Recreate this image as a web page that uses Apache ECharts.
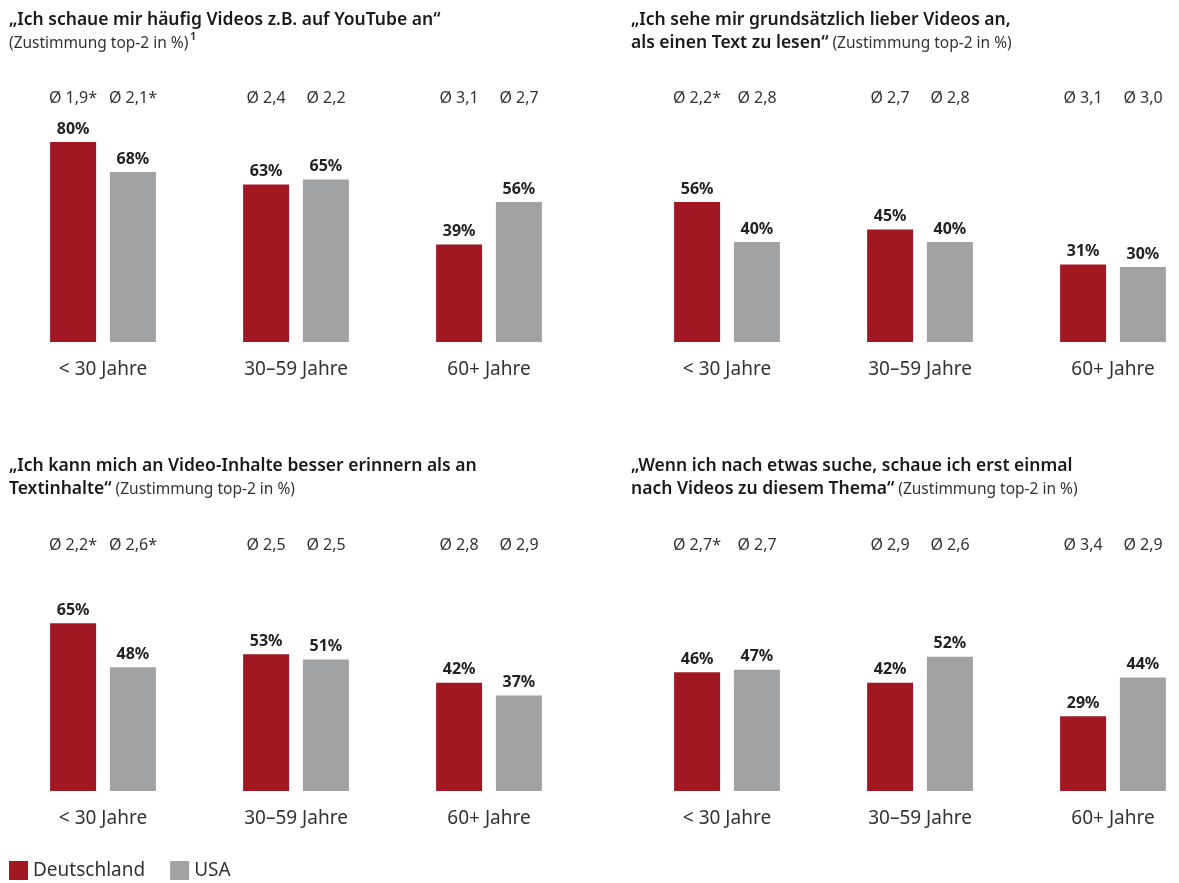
<!DOCTYPE html>
<html>
<head>
<meta charset="utf-8">
<script src="https://cdn.jsdelivr.net/npm/echarts@6/dist/echarts.min.js"></script>
<style>
  html, body { margin: 0; padding: 0; background: #fff; }
  #chart { width: 1179px; height: 883px; }
</style>
</head>
<body>
<div id="chart"></div>
<script>
// Videos vs. Text – Deutschland / USA, nach Altersgruppen

const categories = ['< 30 Jahre', '30–59 Jahre', '60+ Jahre'];

// Zustimmung top-2 in %
const deP1 = [80, 63, 39], usP1 = [68, 65, 56];
const deP2 = [56, 45, 31], usP2 = [40, 40, 30];
const deP3 = [65, 53, 42], usP3 = [48, 51, 37];
const deP4 = [46, 42, 29], usP4 = [47, 52, 44];

// Mittelwerte (Ø)
const avgDeP1 = ['1,9*', '2,4', '3,1'], avgUsP1 = ['2,1*', '2,2', '2,7'];
const avgDeP2 = ['2,2*', '2,7', '3,1'], avgUsP2 = ['2,8', '2,8', '3,0'];
const avgDeP3 = ['2,2*', '2,5', '2,8'], avgUsP3 = ['2,6*', '2,5', '2,9'];
const avgDeP4 = ['2,7*', '2,9', '3,4'], avgUsP4 = ['2,7', '2,6', '2,9'];

const titleBold = [
  ['„Ich schaue mir häufig Videos z.B. auf YouTube an“', ''],
  ['„Ich sehe mir grundsätzlich lieber Videos an,', 'als einen Text zu lesen“'],
  ['„Ich kann mich an Video-Inhalte besser erinnern als an', 'Textinhalte“'],
  ['„Wenn ich nach etwas suche, schaue ich erst einmal', 'nach Videos zu diesem Thema“']
];
const subTitle = '(Zustimmung top-2 in %)';

const RED = '#A11822';
const GRAY = '#A0A1A3';
const TEXT = '#222';
const FONT = '"Noto Sans", "Open Sans", sans-serif';

// Kategorien sitzen auf den Ticks (boundaryGap: false), Gruppenabstand 193px
const panels = [
  { de: deP1, us: usP1, avgDe: avgDeP1, avgUs: avgUsP1, left: 103, top: 117, height: 225, max: 90, tLeft: 9,   tTop: 9 },
  { de: deP2, us: usP2, avgDe: avgDeP2, avgUs: avgUsP2, left: 727, top: 117, height: 225, max: 90, tLeft: 631, tTop: 9 },
  { de: deP3, us: usP3, avgDe: avgDeP3, avgUs: avgUsP3, left: 103, top: 564, height: 227, max: 88, tLeft: 9,   tTop: 455 },
  { de: deP4, us: usP4, avgDe: avgDeP4, avgUs: avgUsP4, left: 727, top: 564, height: 227, max: 88, tLeft: 631, tTop: 455 }
];

const titles = [], grids = [], xAxes = [], yAxes = [], series = [];

panels.forEach((p, i) => {
  const [l1, l2] = titleBold[i];
  let text = '{b|' + l1 + '}\n';
  if (l2) text += '{b|' + l2 + '}{n| ' + subTitle + '}';
  else text += '{n|' + subTitle + '}{sup|1}';
  titles.push({
    left: p.tLeft, top: p.tTop, padding: 0,
    text,
    textStyle: {
      fontFamily: FONT,
      rich: {
        b: { fontFamily: FONT, fontSize: 17.5, fontWeight: 600, color: '#1a1a1a', lineHeight: 23 },
        n: { fontFamily: FONT, fontSize: 15.5, fontWeight: 400, color: '#333', lineHeight: 23 },
        sup: { fontFamily: FONT, fontSize: 10, color: '#333', verticalAlign: 'top', lineHeight: 14, padding: [0, 0, 6, 2] }
      }
    }
  });

  grids.push({ left: p.left, top: p.top, width: 386, height: p.height });

  xAxes.push({
    type: 'category', gridIndex: i, data: categories, position: 'bottom', boundaryGap: false,
    axisLine: { show: false }, axisTick: { show: false },
    axisLabel: { interval: 0, margin: 18, fontFamily: FONT, fontSize: 19, color: '#333' }
  });
  xAxes.push({
    type: 'category', gridIndex: i, data: categories, position: 'top', boundaryGap: false,
    axisLine: { show: false }, axisTick: { show: false },
    axisLabel: {
      interval: 0, margin: 11,
      formatter: (v, idx) => '{a|Ø ' + p.avgDe[idx] + '}{a|Ø ' + p.avgUs[idx] + '}',
      rich: { a: { width: 60, align: 'center', fontFamily: FONT, fontSize: 16, color: '#333' } }
    }
  });

  yAxes.push({ type: 'value', gridIndex: i, min: 0, max: p.max, show: false, splitLine: { show: false } });

  const label = {
    show: true, position: 'top', distance: 5, formatter: '{c}%',
    fontFamily: FONT, fontSize: 16, fontWeight: 'bold', color: TEXT
  };
  series.push({
    name: 'Deutschland', type: 'bar', xAxisIndex: i * 2, yAxisIndex: i,
    data: p.de, barWidth: 46, barGap: '30%', itemStyle: { color: RED }, label, silent: true
  });
  series.push({
    name: 'USA', type: 'bar', xAxisIndex: i * 2, yAxisIndex: i,
    data: p.us, barWidth: 46, barGap: '30%', itemStyle: { color: GRAY }, label, silent: true
  });
});

const chart = echarts.init(document.getElementById('chart'));
chart.setOption({
  animation: false,
  backgroundColor: '#fff',
  title: titles,
  grid: grids,
  xAxis: xAxes,
  yAxis: yAxes,
  series,
  legend: {
    data: ['Deutschland', 'USA'],
    left: 9, top: 861, padding: 0,
    icon: 'rect', itemWidth: 19, itemHeight: 19, itemGap: 25,
    selectedMode: false,
    textStyle: { fontFamily: FONT, fontSize: 19, color: '#333' }
  }
});
window.addEventListener('resize', () => chart.resize());
</script>
</body>
</html>
